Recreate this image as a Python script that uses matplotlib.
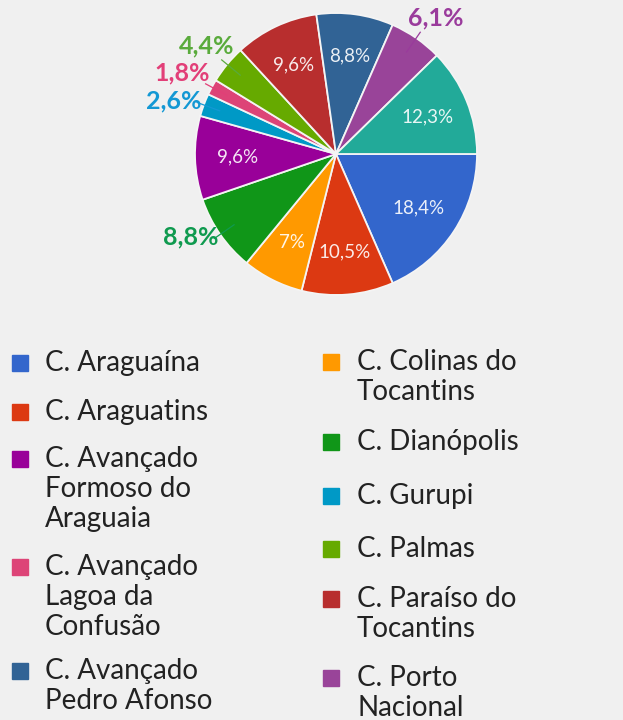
import numpy as np
import matplotlib
matplotlib.use("Agg")
import matplotlib.pyplot as plt

plt.rcParams['font.family'] = ['Lato', 'DejaVu Sans']

# slices in drawing order (clockwise from 3 o'clock)
campus = ["C. Araguaína", "C. Araguatins", "C. Colinas do Tocantins", "C. Dianópolis",
          "C. Avançado Formoso do Araguaia", "C. Gurupi", "C. Avançado Lagoa da Confusão",
          "C. Palmas", "C. Paraíso do Tocantins", "C. Avançado Pedro Afonso",
          "C. Porto Nacional", "Reitoria"]
share = [18.4, 10.5, 7.0, 8.8, 9.6, 2.6, 1.8, 4.4, 9.6, 8.8, 6.1, 12.3]
pct_text = ["18,4%", "10,5%", "7%", "8,8%", "9,6%", "2,6%", "1,8%", "4,4%",
            "9,6%", "8,8%", "6,1%", "12,3%"]
colors = ["#3366cc", "#dc3912", "#ff9900", "#109618", "#990099", "#0099c6",
          "#dd4477", "#66aa00", "#b82e2e", "#316395", "#994499", "#22aa99"]
outside = [False, False, False, True, False, True, True, True, False, False, True, False]
outside_color = {3: "#0f9a4f", 5: "#1398d4", 6: "#e23f78", 7: "#5aab3c", 10: "#9a3b9c"}

# legend (two columns, as in the picture)
legend_left = [
    (0, ["C. Araguaína"]),
    (1, ["C. Araguatins"]),
    (4, ["C. Avançado", "Formoso do", "Araguaia"]),
    (6, ["C. Avançado", "Lagoa da", "Confusão"]),
    (9, ["C. Avançado", "Pedro Afonso"]),
]
legend_right = [
    (2, ["C. Colinas do", "Tocantins"]),
    (3, ["C. Dianópolis"]),
    (5, ["C. Gurupi"]),
    (7, ["C. Palmas"]),
    (8, ["C. Paraíso do", "Tocantins"]),
    (10, ["C. Porto", "Nacional"]),
]
left_rows = [363, 412, 459, 567, 671]
right_rows = [362, 442, 496, 549, 599, 678]

W, H = 623, 720
bg = "#f0f0f0"
fig = plt.figure(figsize=(W / 100, H / 100), dpi=100, facecolor=bg)

cx, cy, r = 336, 154, 141
ax = fig.add_axes([(cx - r) / W, 1 - (cy + r) / H, 2 * r / W, 2 * r / H])
ax.set_facecolor(bg)

wedges, _ = ax.pie(share, colors=colors, startangle=0, counterclock=False,
                   wedgeprops=dict(edgecolor="#f4f4f4", linewidth=1.3))
ax.set_xlim(-1, 1)
ax.set_ylim(-1, 1)
ax.set_aspect("equal")
ax.axis("off")

last_side_y = None
for i, w in enumerate(wedges):
    mid = np.deg2rad((w.theta1 + w.theta2) / 2)
    c, s = np.cos(mid), np.sin(mid)
    if not outside[i]:
        ax.text(0.7 * c, 0.7 * s, pct_text[i], color="white", fontsize=13.5,
                ha="center", va="center", alpha=0.9)
        continue
    col = outside_color[i]
    x0, y0 = 0.88 * c, 0.88 * s
    x1, y1 = 1.05 * c, 1.05 * s
    ax.plot([x0, x1], [y0, y1], color=col, lw=0.9, clip_on=False)
    if abs(c) > 0.8:
        ty = y1 + 0.01
        # keep stacked side labels apart
        if last_side_y is not None and abs(ty - last_side_y) < 0.2 and s > 0:
            ty = last_side_y + 0.2
        last_side_y = ty
        ax.text(x1 - 0.03 * np.sign(c), ty, pct_text[i], color=col,
                fontsize=18, fontweight="bold",
                ha="right" if c < 0 else "left", va="center")
    else:
        ax.text(x1 + 0.11 * np.sign(c), y1 + 0.02, pct_text[i], color=col,
                fontsize=18, fontweight="bold", ha="center", va="bottom")

def draw_legend(items, rows, sq_x, txt_x):
    for (idx, lines), py in zip(items, rows):
        fig.patches.append(plt.Rectangle((sq_x / W, 1 - (py + 8) / H), 16 / W, 16 / H,
                                         transform=fig.transFigure, color=colors[idx]))
        for k, line in enumerate(lines):
            fig.text(txt_x / W, 1 - (py + k * 30) / H, line, fontsize=20,
                     color="#222222", ha="left", va="center")

draw_legend(legend_left, left_rows, 12, 45)
draw_legend(legend_right, right_rows, 323, 357)

fig.savefig("out.png", dpi=100, facecolor=bg)
